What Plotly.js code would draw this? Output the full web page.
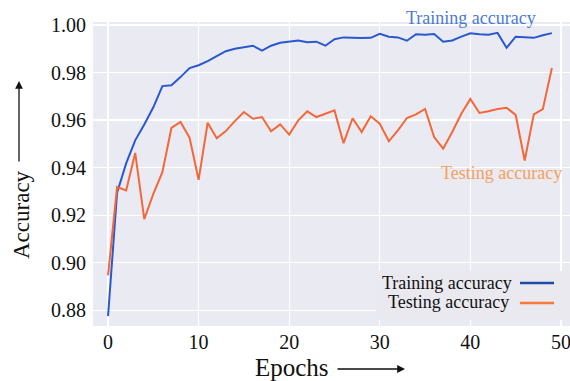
<!DOCTYPE html>
<html>
<head>
<meta charset="utf-8">
<script src="https://cdn.plot.ly/plotly-3.0.1.min.js"></script>
<style>html,body{margin:0;padding:0;background:#fff;}#chart{width:570px;height:381px;}</style>
</head>
<body>
<div id="chart"></div>
<script>
const epochs = [0,1,2,3,4,5,6,7,8,9,10,11,12,13,14,15,16,17,18,19,20,21,22,23,24,25,26,27,28,29,30,31,32,33,34,35,36,37,38,39,40,41,42,43,44,45,46,47,48,49];
const trainingAccuracy = [0.8776,0.9295,0.9418,0.9515,0.9582,0.9654,0.9743,0.9747,0.9781,0.9819,
  0.9831,0.9848,0.9869,0.9890,0.9900,0.9906,0.9913,0.9892,0.9913,0.9925,
  0.9930,0.9935,0.9928,0.9930,0.9913,0.9940,0.9948,0.9946,0.9945,0.9946,
  0.9963,0.9951,0.9948,0.9934,0.9961,0.9959,0.9962,0.9930,0.9935,0.9951,
  0.9965,0.9961,0.9959,0.9967,0.9904,0.9951,0.9949,0.9946,0.9957,0.9966];
const testingAccuracy = [0.8947,0.9319,0.9304,0.9462,0.9184,0.9290,0.9381,0.9567,0.9592,0.9526,
  0.9349,0.9589,0.9524,0.9554,0.9596,0.9634,0.9606,0.9613,0.9553,0.9582,
  0.9539,0.9599,0.9637,0.9613,0.9627,0.9641,0.9503,0.9608,0.9550,0.9616,
  0.9585,0.9511,0.9557,0.9609,0.9624,0.9647,0.9529,0.9480,0.9550,0.9627,
  0.9689,0.9630,0.9637,0.9647,0.9652,0.9622,0.9430,0.9624,0.9646,0.9819];
const xTicks = [0,10,20,30,40,50];
const yTicks = [0.88,0.90,0.92,0.94,0.96,0.98,1.00];
const yTickLabels = ["0.88","0.90","0.92","0.94","0.96","0.98","1.00"];
const seriesNames = ["Training accuracy","Testing accuracy"];
const xTitle = "Epochs";
const yTitle = "Accuracy";

const blue = "#2a58cf", orange = "#f3683a";
const serif = "Liberation Serif";
const W = 570, H = 381, L = 93, R = 0, T = 22, B = 55;
const pw = W - L - R, ph = H - T - B;
const px = x => (x - L) / pw;
const py = y => (H - B - y) / ph;

const traces = [
  {x: epochs, y: trainingAccuracy, name: seriesNames[0], type: "scatter", mode: "lines",
   line: {color: blue, width: 2}, showlegend: false},
  {x: epochs, y: testingAccuracy, name: seriesNames[1], type: "scatter", mode: "lines",
   line: {color: orange, width: 2}, showlegend: false}
];

const layout = {
  width: W, height: H,
  margin: {l: L, r: R, t: T, b: B, pad: 0},
  paper_bgcolor: "#ffffff",
  plot_bgcolor: "#eaeaf2",
  font: {family: serif, size: 20, color: "#111"},
  showlegend: false,
  xaxis: {range: [-1.66, 51.0], tickvals: xTicks, ticktext: xTicks.map(String),
    showgrid: true, gridcolor: "#ffffff", gridwidth: 1.3, zeroline: false, showline: false,
    ticks: "", ticklabelstandoff: 2, ticklabeloverflow: "allow",
    tickfont: {family: serif, size: 20, color: "#111"}},
  yaxis: {range: [0.87342, 1.00127], tickvals: yTicks, ticktext: yTickLabels,
    showgrid: true, gridcolor: "#ffffff", gridwidth: 1.3, zeroline: false, showline: false,
    ticks: "", ticklabelstandoff: 6, ticklabeloverflow: "allow",
    tickfont: {family: serif, size: 20, color: "#111"}},
  annotations: [
    {xref: "paper", yref: "paper", x: px(292), y: py(367), text: xTitle, showarrow: false,
     font: {family: serif, size: 25, color: "#111"}, xanchor: "center", yanchor: "middle"},
    {xref: "paper", yref: "paper", x: px(405), y: py(369), ax: px(336), ay: py(369),
     axref: "paper", ayref: "paper", text: "", showarrow: true, arrowhead: 2, arrowsize: 1.2,
     arrowwidth: 1.3, arrowcolor: "#111"},
    {xref: "paper", yref: "paper", x: px(21), y: py(215), text: yTitle, showarrow: false, textangle: -90,
     font: {family: serif, size: 23, color: "#111"}, xanchor: "center", yanchor: "middle"},
    {xref: "paper", yref: "paper", x: px(19), y: py(81), ax: px(19), ay: py(163),
     axref: "paper", ayref: "paper", text: "", showarrow: true, arrowhead: 2, arrowsize: 1.2,
     arrowwidth: 1.3, arrowcolor: "#111"},
    {xref: "paper", yref: "paper", x: px(471), y: py(18), text: seriesNames[0], showarrow: false,
     font: {family: serif, size: 18, color: "#4a7bd2"}, xanchor: "center", yanchor: "middle"},
    {xref: "paper", yref: "paper", x: px(501), y: py(173), text: seriesNames[1], showarrow: false,
     font: {family: serif, size: 18, color: "#f5a15c"}, xanchor: "center", yanchor: "middle"},
    {xref: "paper", yref: "paper", x: px(514), y: py(283), text: seriesNames[0], showarrow: false,
     font: {family: serif, size: 18, color: "#111"}, xanchor: "right", yanchor: "middle"},
    {xref: "paper", yref: "paper", x: px(511), y: py(302), text: seriesNames[1], showarrow: false,
     font: {family: serif, size: 18, color: "#111"}, xanchor: "right", yanchor: "middle"}
  ],
  shapes: [
    {type: "rect", xref: "paper", yref: "paper", x0: px(376), x1: 1.0, y0: py(320), y1: py(271),
     fillcolor: "#e9e9ef", line: {width: 0}, layer: "above"},
    {type: "line", xref: "paper", yref: "paper", x0: px(520), x1: px(554), y0: py(283), y1: py(283),
     line: {color: "#1f4aa6", width: 2.5}, layer: "above"},
    {type: "line", xref: "paper", yref: "paper", x0: px(520), x1: px(554), y0: py(303), y1: py(303),
     line: {color: "#f87a3a", width: 2.5}, layer: "above"}
  ]
};

Plotly.newPlot("chart", traces, layout, {staticPlot: true, displayModeBar: false});
</script>
</body>
</html>
